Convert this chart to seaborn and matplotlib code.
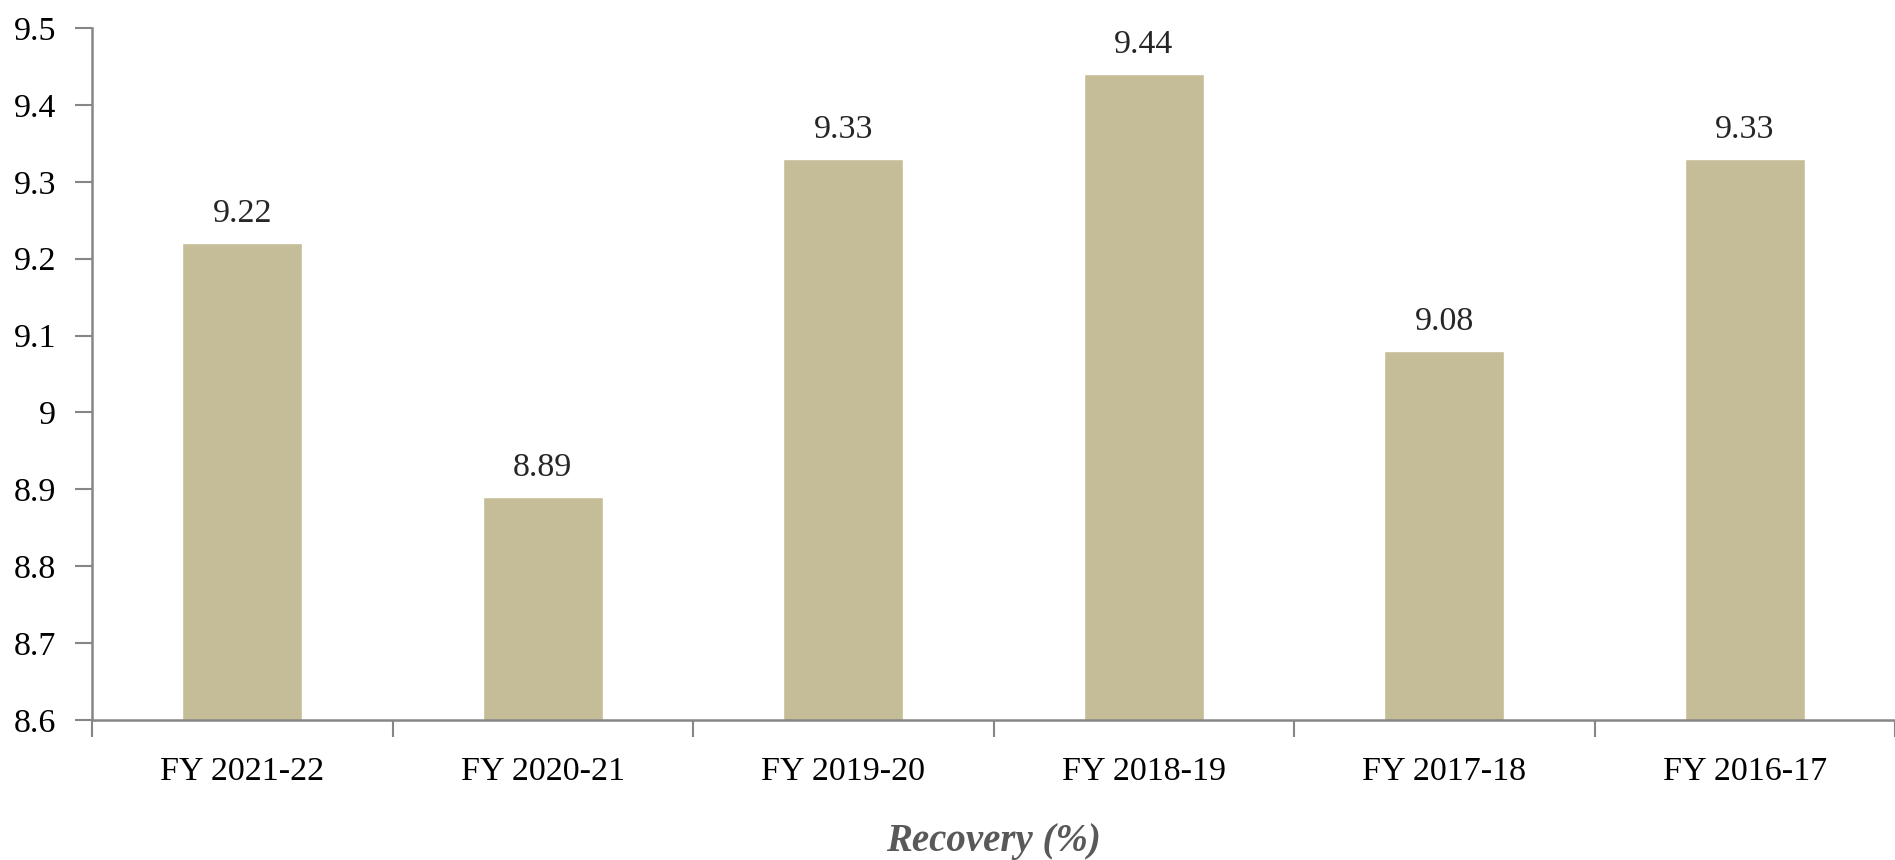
import numpy as np
import pandas as pd
import matplotlib
matplotlib.use("Agg")
import matplotlib.pyplot as plt
import seaborn as sns
from matplotlib.ticker import FixedLocator, FuncFormatter

# data
years = ["FY 2021-22", "FY 2020-21", "FY 2019-20", "FY 2018-19", "FY 2017-18", "FY 2016-17"]
recovery = [9.22, 8.89, 9.33, 9.44, 9.08, 9.33]
yticks = [8.6, 8.7, 8.8, 8.9, 9.0, 9.1, 9.2, 9.3, 9.4, 9.5]

sns.set_theme(style="white")
plt.rcParams['font.family'] = ['Liberation Serif', 'DejaVu Serif']

df = pd.DataFrame({'year': years, 'recovery': recovery})

fig = plt.figure(figsize=(18.95, 8.6), dpi=100)
ax = fig.add_axes([92 / 1895, 1 - 720 / 860, (1895 - 92) / 1895, (720 - 28) / 860])

sns.barplot(data=df, x='year', y='recovery', color='#C5BD98', saturation=1,
            width=0.4, ax=ax)

ax.set_ylim(8.6, 9.5)
ax.set_xlim(-0.5, len(years) - 0.5)
ax.set_yticks(yticks)
ax.yaxis.set_major_formatter(FuncFormatter(lambda v, p: f"{v:g}"))

# category boundaries as ticks, labels in the middle
ax.xaxis.set_major_locator(FixedLocator(np.arange(len(years) + 1) - 0.5))
ax.xaxis.set_minor_locator(FixedLocator(np.arange(len(years))))
ax.set_xticklabels([''] * (len(years) + 1))
ax.set_xticklabels(years, minor=True)
ax.tick_params(axis='x', which='major', bottom=True, length=12, width=1.5,
               color='#868686', direction='out')
ax.tick_params(axis='x', which='minor', bottom=True, length=0, pad=26,
               labelsize=24.5, labelcolor='black')
ax.tick_params(axis='y', left=True, length=12, width=1.5, color='#868686', direction='out',
               labelsize=24.5, labelcolor='black', pad=14)

for s in ['top', 'right']:
    ax.spines[s].set_visible(False)
for s in ['left', 'bottom']:
    ax.spines[s].set_color('#868686')
    ax.spines[s].set_linewidth(1.8)

for c in ax.containers:
    ax.bar_label(c, labels=[f"{v:.2f}" for v in recovery], padding=10, fontsize=24.5)

ax.set_xlabel('Recovery (%)', fontsize=28, fontweight='bold', fontstyle='italic',
              color='#595959', labelpad=26)
ax.set_ylabel('')

fig.savefig('out.png', dpi=100)
